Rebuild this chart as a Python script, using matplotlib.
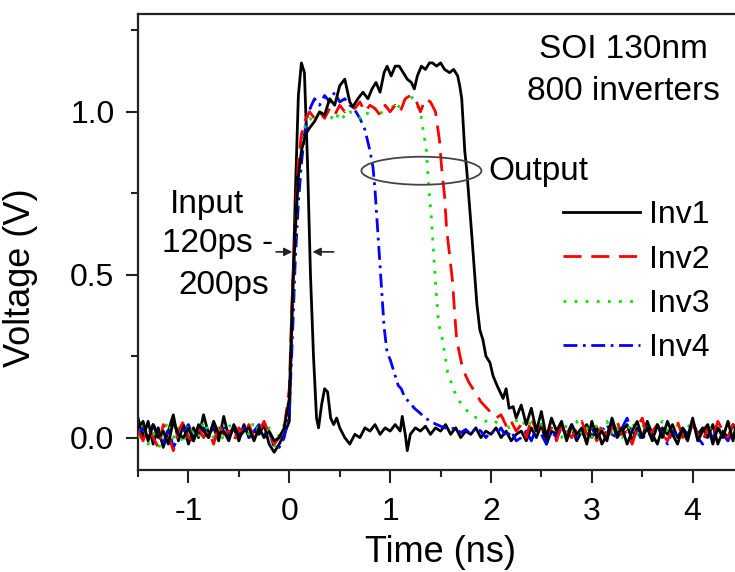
import matplotlib
matplotlib.use('Agg')
import matplotlib.pyplot as plt
from matplotlib.patches import Ellipse
from matplotlib.ticker import MultipleLocator, FormatStrFormatter

# sample times of the flat (noisy) parts, ns
T_PRE = [-1.5, -1.45, -1.4, -1.35, -1.3, -1.25, -1.2, -1.15, -1.1, -1.05,
         -1.0, -0.95, -0.9, -0.85, -0.8, -0.75, -0.7, -0.65, -0.6, -0.55,
         -0.5, -0.45, -0.4, -0.35, -0.3, -0.25, -0.2, -0.15]
T_POST = [2.3, 2.35, 2.4, 2.45, 2.5, 2.55, 2.6, 2.65, 2.7, 2.75, 2.8, 2.85,
          2.9, 2.95, 3.0, 3.05, 3.1, 3.15, 3.2, 3.25, 3.3, 3.35, 3.4, 3.45,
          3.5, 3.55, 3.6, 3.65, 3.7, 3.75, 3.8, 3.85, 3.9, 3.95, 4.0, 4.05,
          4.1, 4.15, 4.2, 4.25, 4.3, 4.35, 4.4, 4.45, 4.5]

# input pulse (black)
input_pre = [0.06, 0.0, 0.05, -0.02, 0.03, -0.03, 0.02, 0.07, -0.01, 0.04,
             -0.02, 0.03, 0.0, 0.07, 0.01, 0.03, -0.01, 0.065, 0.0, 0.03,
             -0.01, 0.04, 0.0, 0.02, 0.01, 0.04, -0.02, -0.045]
input_mid = [(-0.1, -0.02), (-0.05, 0.01), (0.0, 0.05), (0.03, 0.4), (0.06, 0.75),
             (0.09, 1.05), (0.12, 1.15), (0.15, 1.12), (0.18, 0.85), (0.21, 0.5),
             (0.24, 0.25), (0.27, 0.06), (0.29, 0.03), (0.32, 0.1), (0.35, 0.15),
             (0.38, 0.14), (0.41, 0.06), (0.44, 0.04), (0.47, 0.06), (0.5, 0.03),
             (0.55, 0.0), (0.6, -0.02), (0.65, 0.01), (0.7, 0.0), (0.75, 0.03),
             (0.8, 0.02), (0.85, 0.04), (0.9, 0.01), (0.95, 0.03), (1.0, 0.02),
             (1.05, 0.04), (1.1, 0.02), (1.12, 0.065), (1.15, 0.01), (1.17, -0.04),
             (1.2, 0.01), (1.25, 0.03), (1.3, 0.02), (1.35, 0.035), (1.4, 0.01),
             (1.45, 0.03), (1.5, 0.02), (1.55, 0.04), (1.6, 0.01), (1.65, 0.03),
             (1.7, 0.0), (1.75, 0.02), (1.8, 0.01), (1.85, 0.03), (1.9, 0.0),
             (1.95, 0.02), (2.0, 0.01), (2.05, 0.03), (2.1, 0.0), (2.15, 0.02),
             (2.2, -0.01), (2.25, 0.01)]
input_post = [0.02, -0.01, 0.03, 0.0, 0.04, -0.02, 0.02, 0.01, 0.04, 0.0,
              0.03, -0.01, 0.02, 0.04, 0.0, 0.03, -0.02, 0.01, 0.05, 0.0,
              0.02, 0.04, -0.01, 0.03, 0.0, 0.05, 0.01, -0.02, 0.03, 0.01,
              0.04, 0.0, 0.02, -0.01, 0.05, 0.01, 0.03, 0.0, 0.04, -0.02,
              0.02, 0.0, 0.04, 0.01, 0.03]

# Inv1 output (black solid)
inv1_pre = [0.03, 0.05, -0.01, 0.04, 0.0, 0.02, -0.02, 0.05, 0.01, 0.0,
            0.03, -0.01, 0.04, 0.02, 0.0, 0.05, 0.01, 0.02, -0.01, 0.04,
            0.0, 0.02, 0.03, -0.01, 0.03, 0.0, 0.02, -0.01]
inv1_mid = [(-0.1, 0.0), (-0.05, 0.03), (0.0, 0.12), (0.03, 0.42), (0.06, 0.64),
            (0.09, 0.8), (0.12, 0.88), (0.16, 0.93), (0.2, 0.95), (0.25, 0.97),
            (0.3, 1.0), (0.35, 0.99), (0.4, 1.04), (0.45, 1.02), (0.5, 1.08),
            (0.55, 1.1), (0.6, 1.03), (0.63, 1.015), (0.68, 1.04), (0.73, 1.06),
            (0.78, 1.04), (0.82, 1.07), (0.86, 1.09), (0.9, 1.06), (0.94, 1.12),
            (0.97, 1.14), (1.01, 1.11), (1.05, 1.14), (1.09, 1.14), (1.13, 1.12),
            (1.17, 1.10), (1.21, 1.09), (1.24, 1.07), (1.27, 1.11), (1.31, 1.14),
            (1.35, 1.13), (1.39, 1.15), (1.42, 1.15), (1.46, 1.14), (1.5, 1.15),
            (1.54, 1.13), (1.59, 1.12), (1.63, 1.13), (1.67, 1.11), (1.69, 1.08),
            (1.71, 1.04), (1.74, 0.88), (1.76, 0.82), (1.81, 0.62), (1.86, 0.41),
            (1.89, 0.33), (1.92, 0.30), (1.95, 0.25), (1.99, 0.23), (2.02, 0.19),
            (2.06, 0.16), (2.09, 0.14), (2.12, 0.12), (2.15, 0.15), (2.18, 0.09),
            (2.22, 0.095), (2.25, 0.06)]
inv1_post = [0.1, 0.04, 0.09, 0.02, 0.08, 0.0, 0.06, 0.02, 0.05, -0.01,
             0.04, 0.01, 0.03, -0.02, 0.05, 0.0, 0.02, -0.01, 0.06, 0.01,
             0.03, -0.02, 0.02, 0.05, 0.0, 0.03, -0.01, 0.04, 0.0, 0.05,
             0.01, -0.02, 0.03, 0.0, 0.06, -0.01, 0.02, 0.04, -0.02, 0.03,
             0.0, 0.05, -0.01, 0.07, 0.0]

# Inv2 output (red dashed)
inv2_pre = [0.02, -0.01, 0.03, 0.0, -0.03, 0.04, 0.01, -0.04, 0.02, 0.05,
            0.0, -0.01, 0.03, 0.0, 0.02, -0.02, 0.04, 0.01, 0.02, -0.01,
            0.03, 0.01, 0.04, 0.0, 0.02, 0.05, 0.01, -0.02]
inv2_mid = [(-0.1, 0.0), (-0.05, 0.03), (0.0, 0.15), (0.03, 0.45), (0.06, 0.65),
            (0.09, 0.85), (0.12, 0.93), (0.15, 0.97), (0.2, 1.0), (0.25, 0.98),
            (0.3, 1.0), (0.35, 0.98), (0.4, 1.01), (0.45, 0.99), (0.5, 1.02),
            (0.55, 1.0), (0.6, 1.02), (0.65, 1.01), (0.7, 1.03), (0.75, 1.0),
            (0.8, 1.02), (0.85, 1.01), (0.9, 0.99), (0.95, 1.02), (1.0, 1.0),
            (1.05, 1.02), (1.1, 1.0), (1.15, 1.04), (1.2, 1.05), (1.25, 1.04),
            (1.3, 1.0), (1.35, 1.04), (1.4, 1.03), (1.45, 1.0), (1.49, 0.91),
            (1.51, 0.83), (1.54, 0.74), (1.56, 0.64), (1.59, 0.56), (1.62, 0.475),
            (1.64, 0.38), (1.66, 0.30), (1.7, 0.24), (1.72, 0.21), (1.78, 0.17),
            (1.84, 0.14), (1.9, 0.11), (1.99, 0.08), (2.05, 0.06), (2.1, 0.07),
            (2.16, 0.03), (2.2, 0.05), (2.25, 0.02)]
inv2_post = [0.04, 0.0, 0.06, 0.02, 0.05, 0.01, 0.03, -0.01, 0.04, 0.02,
             0.0, 0.03, 0.05, 0.01, 0.02, -0.01, 0.04, 0.0, 0.03, 0.05,
             0.01, 0.02, -0.02, 0.03, 0.06, 0.0, 0.02, 0.04, 0.01, -0.01,
             0.03, 0.05, 0.0, 0.02, 0.04, 0.01, -0.01, 0.03, 0.0, 0.05,
             0.02, 0.0, 0.04, -0.01, 0.03]

# Inv3 output (green dotted)
inv3_pre = [0.0, 0.04, -0.02, 0.03, -0.04, 0.02, 0.05, 0.0, 0.03, -0.02,
            0.04, 0.01, 0.0, 0.05, 0.02, 0.0, 0.03, -0.01, 0.04, 0.02,
            0.0, 0.03, 0.01, 0.05, 0.02, 0.0, 0.03, -0.03]
inv3_mid = [(-0.1, 0.01), (-0.05, 0.04), (0.0, 0.12), (0.03, 0.4), (0.06, 0.62),
            (0.09, 0.8), (0.12, 0.9), (0.16, 0.96), (0.2, 0.98), (0.25, 0.97),
            (0.3, 1.0), (0.35, 0.98), (0.4, 0.99), (0.45, 0.97), (0.5, 1.0),
            (0.55, 0.98), (0.6, 1.0), (0.65, 0.99), (0.7, 0.98), (0.75, 1.0),
            (0.8, 0.99), (0.85, 1.01), (0.9, 0.99), (0.95, 1.02), (1.0, 1.0),
            (1.05, 1.03), (1.1, 1.01), (1.15, 1.04), (1.2, 1.05), (1.25, 1.03),
            (1.3, 1.0), (1.33, 0.94), (1.36, 0.88), (1.37, 0.83), (1.38, 0.78),
            (1.41, 0.67), (1.44, 0.52), (1.48, 0.35), (1.52, 0.30), (1.57, 0.20),
            (1.64, 0.14), (1.69, 0.11), (1.74, 0.09), (1.8, 0.07), (1.86, 0.06),
            (1.94, 0.05), (2.02, 0.055), (2.08, 0.04), (2.12, 0.06), (2.18, 0.03),
            (2.24, 0.05)]
inv3_post = [0.06, 0.03, 0.05, 0.02, 0.04, 0.01, 0.05, 0.02, 0.0, 0.04,
             0.02, 0.05, 0.01, 0.03, 0.0, 0.04, 0.02, 0.05, 0.01, 0.03,
             0.0, 0.02, 0.05, 0.01, 0.04, 0.02, 0.0, 0.03, 0.05, 0.02,
             0.0, 0.04, 0.01, 0.03, 0.05, 0.0, 0.02, 0.04, 0.01, 0.03,
             0.0, 0.05, 0.02, 0.0, 0.04]

# Inv4 output (blue dash-dot)
inv4_pre = [0.01, 0.03, 0.0, 0.04, 0.01, -0.02, 0.03, -0.03, 0.0, 0.02,
            0.04, 0.0, 0.02, 0.03, 0.0, 0.04, 0.02, 0.03, 0.0, 0.04,
            0.01, 0.03, 0.0, 0.02, 0.04, 0.01, 0.02, -0.03]
inv4_mid = [(-0.1, -0.03), (-0.05, 0.0), (0.0, 0.08), (0.03, 0.3), (0.06, 0.55),
            (0.09, 0.72), (0.12, 0.84), (0.15, 0.93), (0.18, 0.99), (0.22, 1.02),
            (0.25, 1.04), (0.3, 1.02), (0.35, 1.05), (0.4, 1.03), (0.45, 1.06),
            (0.5, 1.03), (0.55, 1.04), (0.6, 1.02), (0.63, 1.015), (0.7, 0.98),
            (0.75, 0.945), (0.8, 0.88), (0.83, 0.83), (0.85, 0.76), (0.88, 0.62),
            (0.91, 0.48), (0.94, 0.34), (0.97, 0.26), (1.0, 0.24), (1.04, 0.20),
            (1.08, 0.16), (1.11, 0.15), (1.15, 0.12), (1.19, 0.11), (1.24, 0.09),
            (1.29, 0.077), (1.35, 0.06), (1.42, 0.046), (1.5, 0.035), (1.59, 0.025),
            (1.65, 0.03), (1.7, 0.015), (1.75, 0.025), (1.8, 0.01), (1.85, 0.03),
            (1.9, 0.02), (1.95, 0.0), (2.0, 0.02), (2.05, 0.01), (2.1, 0.03),
            (2.15, 0.0), (2.2, 0.02), (2.25, -0.01)]
inv4_post = [0.0, 0.02, -0.01, 0.03, 0.01, -0.02, 0.02, 0.0, 0.03, 0.01,
             0.04, 0.0, 0.02, -0.01, 0.03, 0.0, 0.02, 0.04, 0.01, 0.0,
             0.03, 0.06, 0.01, 0.02, -0.01, 0.03, 0.0, 0.04, 0.01, -0.02,
             0.02, 0.0, 0.03, 0.01, 0.04, 0.0, -0.02, 0.02, 0.0, 0.03,
             0.01, -0.01, 0.02, 0.0, 0.03]

labels = ['Inv1', 'Inv2', 'Inv3', 'Inv4']
x_ticks = [-1, 0, 1, 2, 3, 4]
y_ticks = [0.0, 0.5, 1.0]


def trace(pre, mid, post):
    x = T_PRE + [p[0] for p in mid] + T_POST
    y = pre + [p[1] for p in mid] + post
    return x, y


plt.rcParams['font.family'] = ['Liberation Sans', 'DejaVu Sans']
plt.rcParams['axes.unicode_minus'] = False
FS = 23      # ticks, legend
FS_TXT = 24  # annotations
FS_LAB = 26  # axis titles

fig = plt.figure(figsize=(7.35, 5.72), dpi=100)
ax = fig.add_axes([0.1878, 0.178, 1.011 - 0.1878, 0.9755 - 0.178])

lw = 2.0
ax.plot(*trace(input_pre, input_mid, input_post), color='black', lw=lw, zorder=2)
l4, = ax.plot(*trace(inv4_pre, inv4_mid, inv4_post), color='#0000ff', lw=lw,
              dashes=(5, 2, 1, 2), zorder=3)
l3, = ax.plot(*trace(inv3_pre, inv3_mid, inv3_post), color='#00e600', lw=lw,
              dashes=(1, 3), zorder=4)
l2, = ax.plot(*trace(inv2_pre, inv2_mid, inv2_post), color='#ff0000', lw=lw,
              dashes=(6.5, 3.5), zorder=5)
l1, = ax.plot(*trace(inv1_pre, inv1_mid, inv1_post), color='black', lw=lw, zorder=6)

ax.set_xlim(-1.5, 4.5)
ax.set_ylim(-0.1, 1.3)
ax.set_xticks(x_ticks)
ax.set_yticks(y_ticks)
ax.yaxis.set_major_formatter(FormatStrFormatter('%.1f'))
ax.xaxis.set_minor_locator(MultipleLocator(0.5))
ax.yaxis.set_minor_locator(MultipleLocator(0.25))
ax.tick_params(which='major', direction='out', length=9, width=1.5,
               labelsize=FS, color='#222222')
ax.tick_params(which='minor', direction='out', length=5, width=1.5, color='#222222')
ax.tick_params(axis='x', pad=10)
ax.tick_params(axis='y', pad=8)
for s in ax.spines.values():
    s.set_linewidth(1.6)
    s.set_color('#222222')

ax.set_xlabel('Time (ns)', fontsize=FS_LAB, labelpad=6)
ax.set_ylabel('Voltage (V)', fontsize=FS_LAB)
ax.yaxis.set_label_coords(-0.165, 0.423)

ax.text(3.31, 1.166, 'SOI 130nm', fontsize=FS_TXT, ha='center', va='baseline')
ax.text(3.31, 1.037, '800 inverters', fontsize=FS_TXT, ha='center', va='baseline')
ax.text(1.97, 0.816, 'Output', fontsize=FS_TXT, ha='left', va='center')
ax.add_patch(Ellipse((1.31, 0.819), 1.19, 0.086, fill=False,
                     edgecolor='#444444', lw=1.3, zorder=7))
ax.text(-0.815, 0.69, 'Input', fontsize=FS_TXT, ha='center', va='baseline')
ax.text(-0.716, 0.57, '120ps -', fontsize=FS_TXT, ha='center', va='baseline')
ax.text(-0.646, 0.44, '200ps', fontsize=FS_TXT, ha='center', va='baseline')

arrow = dict(arrowstyle='-|>', color='#222222', lw=1.2, mutation_scale=12,
             shrinkA=0, shrinkB=0)
ax.annotate('', xy=(0.03, 0.57), xytext=(-0.13, 0.57), arrowprops=arrow)
ax.annotate('', xy=(0.23, 0.57), xytext=(0.44, 0.57), arrowprops=arrow)

ax.legend([l1, l2, l3, l4], labels, loc='upper left',
          bbox_to_anchor=(0.766, 0.65), bbox_transform=fig.transFigure,
          frameon=False, fontsize=FS, borderpad=0, borderaxespad=0,
          handlelength=2.4, handletextpad=0.3, labelspacing=0.45)

fig.savefig('out.png', dpi=100)
